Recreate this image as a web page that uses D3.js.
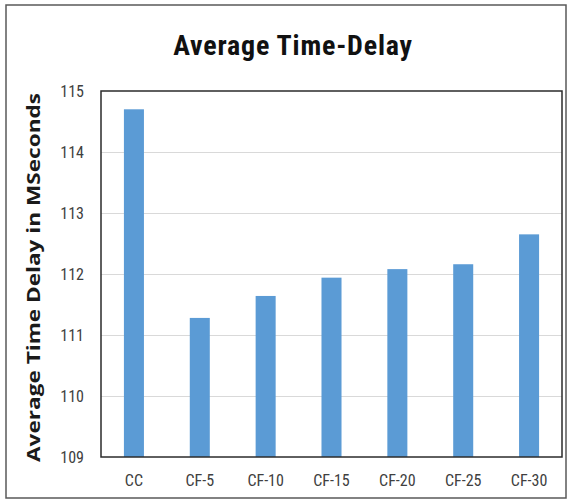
<!DOCTYPE html>
<html>
<head>
<meta charset="utf-8">
<script src="https://cdn.jsdelivr.net/npm/d3@7"></script>
<style>
  html, body { margin: 0; padding: 0; background: #fff; }
  svg { display: block; }
  text { font-family: "Roboto Condensed", "Liberation Sans Narrow", "Roboto", sans-serif; }
</style>
</head>
<body>
<script>
// Average delay per scheme
const categories = ["CC", "CF-5", "CF-10", "CF-15", "CF-20", "CF-25", "CF-30"];
const delays = [114.70, 111.28, 111.64, 111.94, 112.08, 112.16, 112.65];
const yTicks = [109, 110, 111, 112, 113, 114, 115];
const chartTitle = "Average Time-Delay";
const yTitle = "Average Time Delay in MSeconds";

const W = 572, H = 504;
const plot = { left: 101, top: 91, right: 562, bottom: 457 };

const svg = d3.select("body").append("svg")
  .attr("width", W).attr("height", H);

// outer frame
svg.append("rect")
  .attr("x", 6).attr("y", 5)
  .attr("width", 560).attr("height", 493)
  .attr("fill", "#fff")
  .attr("stroke", "#595959").attr("stroke-width", 1.5);

const x = d3.scaleBand()
  .domain(categories)
  .range([plot.left, plot.right])
  .paddingInner(0.696)
  .paddingOuter(0.348);

const y = d3.scaleLinear()
  .domain([109, 115])
  .range([plot.bottom, plot.top]);

// horizontal gridlines
svg.append("g")
  .selectAll("line")
  .data(yTicks.slice(1, -1))
  .join("line")
  .attr("x1", plot.left).attr("x2", plot.right)
  .attr("y1", d => Math.round(y(d)) + 0.5)
  .attr("y2", d => Math.round(y(d)) + 0.5)
  .attr("stroke", "#d9d9d9").attr("stroke-width", 1.2);

// bars
svg.append("g")
  .selectAll("rect")
  .data(categories.map((c, i) => ({ c, v: delays[i] })))
  .join("rect")
  .attr("x", d => x(d.c))
  .attr("width", x.bandwidth())
  .attr("y", d => y(d.v))
  .attr("height", d => y(109) - y(d.v))
  .attr("fill", "#5b9bd5");

// plot frame
svg.append("rect")
  .attr("x", plot.left).attr("y", plot.top)
  .attr("width", plot.right - plot.left)
  .attr("height", plot.bottom - plot.top)
  .attr("fill", "none")
  .attr("stroke", "#2b2b2b").attr("stroke-width", 1.5);

// y tick labels
const yAxis = d3.axisLeft(y).tickValues(yTicks).tickSize(0).tickPadding(17)
  .tickFormat(d3.format("d"));
const gy = svg.append("g").attr("transform", `translate(${plot.left},0)`).call(yAxis);
gy.select(".domain").remove();
gy.selectAll("text")
  .attr("fill", "#404040")
  .style("font-size", "16px")
  .style("font-family", "\"Roboto Condensed\", \"Liberation Sans Narrow\", Roboto, sans-serif");

// x tick labels
const xAxis = d3.axisBottom(x).tickSize(0).tickPadding(18);
const gx = svg.append("g").attr("transform", `translate(0,${plot.bottom})`).call(xAxis);
gx.select(".domain").remove();
gx.selectAll("text")
  .attr("fill", "#404040")
  .style("font-size", "16px")
  .style("font-family", "\"Roboto Condensed\", \"Liberation Sans Narrow\", Roboto, sans-serif");

// chart title
svg.append("text")
  .attr("x", 293).attr("y", 55)
  .attr("text-anchor", "middle")
  .attr("fill", "#111")
  .style("font-size", "28px")
  .style("font-weight", "bold")
  .style("letter-spacing", "0.8px")
  .text(chartTitle);

// y-axis title
svg.append("text")
  .attr("transform", `translate(40,${277.5}) rotate(-90)`)
  .attr("text-anchor", "middle")
  .attr("fill", "#1a1a1a")
  .style("font-family", "\"Open Sans\", sans-serif")
  .style("font-size", "18px")
  .style("font-weight", "bold")
  .attr("textLength", 369)
  .attr("lengthAdjust", "spacingAndGlyphs")
  .text(yTitle);
</script>
</body>
</html>
